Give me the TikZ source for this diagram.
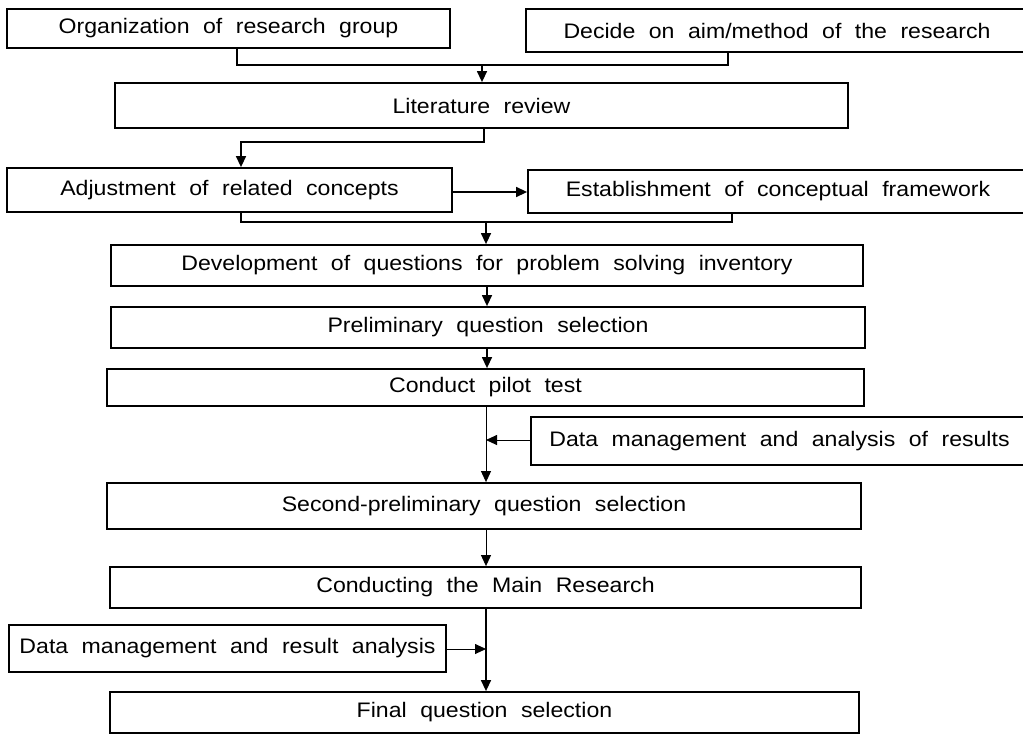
\documentclass[tikz,border=0pt]{standalone}
\usepackage{fontspec}
\setmainfont{Liberation Sans}[FakeStretch=1.1,WordSpace=2.1]
\usetikzlibrary{arrows.meta}
\begin{document}
\begin{tikzpicture}[x=1pt,y=-1pt,
  stepbox/.style={draw=black,line width=1.8pt,rectangle,inner sep=0pt,
    font=\fontsize{21}{25}\selectfont},
  conn/.style={line width=1.4pt},
  arr/.style={line width=1.4pt,-{Triangle[length=11pt,width=10pt]}},
  thinarr/.style={line width=0.9pt,-{Triangle[length=11pt,width=10pt]}}]
\useasboundingbox[fill=white] (0,0) rectangle (1023,736);
\node[stepbox,minimum width=443pt,minimum height=39pt] (b1) at (228.5,28.5) {Organization of research group};
\node[stepbox,minimum width=502pt,minimum height=43pt] (b2) at (777,30.5) {Decide on aim/method of the research};
\node[stepbox,minimum width=733pt,minimum height=45pt] (b3) at (481.5,105.5) {Literature review};
\node[stepbox,minimum width=445pt,minimum height=44pt] (b4) at (229.5,190) {Adjustment of related concepts};
\node[stepbox,minimum width=500pt,minimum height=43pt] (b5) at (778,191.5) {Establishment of conceptual framework};
\node[stepbox,minimum width=752pt,minimum height=41pt] (b6) at (487,265.5) {Development of questions for problem solving inventory};
\node[stepbox,minimum width=754pt,minimum height=41pt] (b7) at (488,327.5) {Preliminary question selection};
\node[stepbox,minimum width=757pt,minimum height=37pt] (b8) at (485.5,387.5) {Conduct pilot test};
\node[stepbox,minimum width=497pt,minimum height=48pt] (b9) at (779.5,441) {Data management and analysis of results};
\node[stepbox,minimum width=754pt,minimum height=46pt] (b10) at (484,506) {Second-preliminary question selection};
\node[stepbox,minimum width=751pt,minimum height=41pt] (b11) at (485.5,587.5) {Conducting the Main Research};
\node[stepbox,minimum width=437pt,minimum height=47pt] (b12) at (227.5,648.5) {Data management and result analysis};
\node[stepbox,minimum width=749pt,minimum height=41pt] (b13) at (484.5,712.5) {Final question selection};
% top merge
\coordinate (j1) at (482,65);
\draw[conn] ([xshift=8.5pt]b1.south) |- (j1) -| ([xshift=-49pt]b2.south);
\draw[arr] (j1) -- (j1 |- b3.north);
% literature -> adjustment
\coordinate (j2) at (484,142);
\draw[arr] (j2 |- b3.south) -- (j2) -| ([xshift=11.5pt]b4.north);
% adjustment -> establishment
\draw[arr] ([yshift=-2pt]b4.east) -- ([yshift=-2pt]b4.east -| b5.west);
% second merge
\coordinate (j3) at (486,222);
\draw[conn] ([xshift=11.5pt]b4.south) |- (j3) -| ([xshift=-46pt]b5.south);
\draw[arr] (j3) -- (j3 |- b6.north);
\draw[arr] (b6.south) -- (b6.south |- b7.north);
\draw[arr] (b6.south |- b7.south) -- (b6.south |- b8.north);
% pilot
\coordinate (j4) at (486,440);
\draw[thinarr] (j4 |- b8.south) -- (j4 |- b10.north);
\draw[thinarr] (b9.west |- j4) -- (j4);
\draw[thinarr] (j4 |- b10.south) -- (j4 |- b11.north);
% main research
\coordinate (j5) at (486,649);
\draw[arr] (j5 |- b11.south) -- (j5 |- b13.north);
\draw[thinarr] (b12.east |- j5) -- (j5);
\end{tikzpicture}
\end{document}
